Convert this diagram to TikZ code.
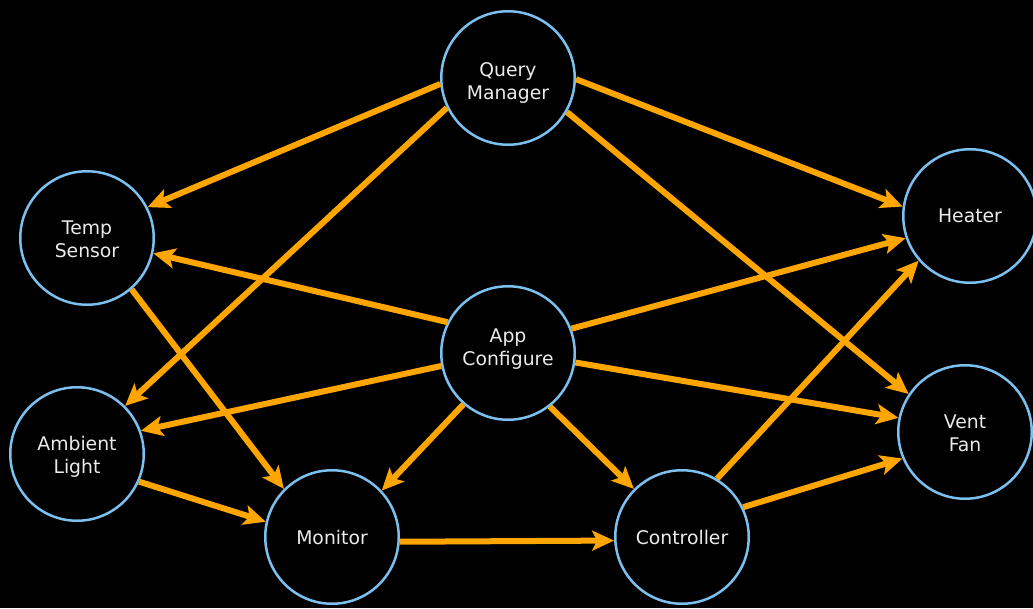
\documentclass[tikz,border=0pt]{standalone}
\usepackage{fontspec}
\setmainfont{DejaVu Sans}
\usetikzlibrary{arrows.meta}
\definecolor{edgeorange}{HTML}{FFA500}
\definecolor{ringblue}{HTML}{7CC0F0}
\definecolor{labelgray}{HTML}{EBEBEB}
\newcommand{\tworows}[3]{\raisebox{#1}[\height][\depth]{\begin{tabular}{@{}c@{}}#2\\#3\end{tabular}}}
\tikzset{
  ring/.style={circle, draw=ringblue, line width=2.5pt, fill=black, minimum size=133.5pt, inner sep=0pt,
    text=labelgray, align=center, font=\fontsize{18.8}{23}\selectfont},
  link/.style={draw=edgeorange, line width=6pt, -{Stealth[length=22pt,width=20pt,inset=5pt]}}
}
\begin{document}
\begin{tikzpicture}[x=1pt,y=-1pt]
\fill[black] (0,0) rectangle (1033,608);
\useasboundingbox (0,0) rectangle (1033,608);
\node[ring] (qm) at (508,78) {\tworows{-5.5pt}{Query}{Manager}};
\node[ring] (temp) at (87,238) {\tworows{-3pt}{Temp}{Sensor}};
\node[ring] (heater) at (970,216) {Heater};
\node[ring] (ac) at (508,353) {\tworows{3.5pt}{App}{Configure}};
\node[ring] (amb) at (77,454) {\tworows{-3pt}{Ambient}{Light}};
\node[ring] (vent) at (965,432) {\tworows{-3pt}{Vent}{Fan}};
\node[ring] (mon) at (332,537) {Monitor};
\node[ring] (ctrl) at (682,537) {Controller};
\draw[link] (qm.185.8) -- (temp.27.3);
\draw[link] (qm.206.9) -- (amb.45);
\draw[link] (qm.-1.7) -- (heater.172.7);
\draw[link] (qm.-30) -- (vent.146.7);
\draw[link] (ac.153.8) -- (temp.-13);
\draw[link] (ac.191.8) -- (amb.20.6);
\draw[link] (ac.21.8) -- (heater.199.8);
\draw[link] (ac.-8.2) -- (vent.168.5);
\draw[link] (ac.229) -- (mon.43.9);
\draw[link] (ac.-52) -- (ctrl.135);
\draw[link] (temp.-49.6) -- (mon.135);
\draw[link] (amb.-24) -- (mon.167.7);
\draw[link] (mon.-4) -- (ctrl.183);
\draw[link] (ctrl.59) -- (heater.221);
\draw[link] (ctrl.26.2) -- (vent.203);
\end{tikzpicture}
\end{document}
